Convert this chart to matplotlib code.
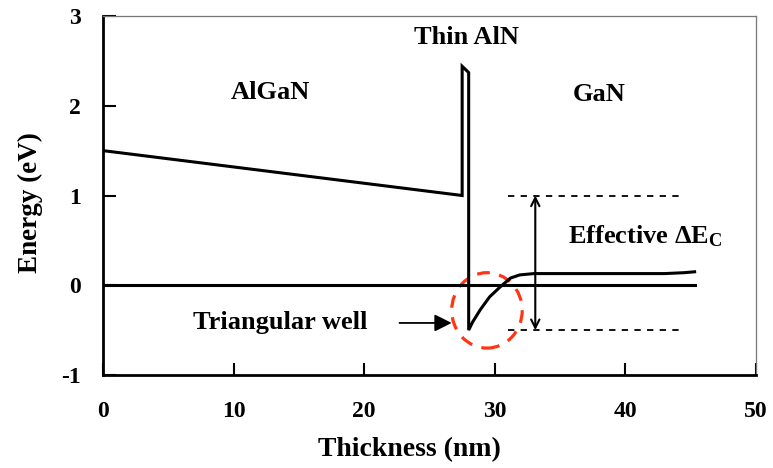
import matplotlib
matplotlib.use("Agg")
import matplotlib.pyplot as plt
from matplotlib.patches import Ellipse

plt.rcParams['font.family'] = ['Liberation Serif', 'DejaVu Serif']
plt.rcParams['font.weight'] = 'bold'
plt.rcParams['axes.unicode_minus'] = False
plt.rcParams['mathtext.fontset'] = 'custom'
plt.rcParams['mathtext.rm'] = 'Liberation Serif:bold'
plt.rcParams['mathtext.bf'] = 'Liberation Serif:bold'
plt.rcParams['mathtext.it'] = 'Liberation Serif:bold'

# Conduction band profile (thickness in nm, energy in eV)
algan_x = [0.0, 27.5]
algan_y = [1.5, 1.0]
barrier_x = [27.5, 27.5, 28.0, 28.0]
barrier_y = [1.0, 2.44, 2.37, -0.5]
gan_x = [28.0, 28.3, 28.9, 29.6, 30.4, 31.2, 31.9, 33.0, 43.0, 44.5, 45.3]
gan_y = [-0.5, -0.41, -0.27, -0.13, -0.02, 0.08, 0.115, 0.13, 0.13, 0.14, 0.15]

# Fermi level reference
fermi_x = [0.0, 45.3]
fermi_y = [0.0, 0.0]

# Effective conduction band offset markers
offset_top = 1.0
offset_bottom = -0.5
offset_span = [31.0, 44.5]
offset_arrow_x = 33.1

xticks = [0, 10, 20, 30, 40, 50]
yticks = [-1, 0, 1, 2, 3]

fig = plt.figure(figsize=(7.73, 4.68), dpi=100)
ax = fig.add_axes([103/773, 1 - 375/468, (756 - 103)/773, (375 - 16)/468])

lw = 2.2
ax.plot(algan_x + barrier_x[1:] + gan_x[1:], algan_y + barrier_y[1:] + gan_y[1:],
        color='black', lw=lw, solid_joinstyle='miter')
ax.plot(fermi_x, fermi_y, color='black', lw=lw)

for yv in (offset_top, offset_bottom):
    ax.plot(offset_span, [yv, yv], color='black', lw=1.3, dashes=(3.5, 3.5))

ax.annotate('', xy=(offset_arrow_x, offset_top), xytext=(offset_arrow_x, offset_bottom),
            arrowprops=dict(arrowstyle='<->', lw=1.5, color='black',
                            mutation_scale=15, shrinkA=0, shrinkB=0))

ax.add_patch(Ellipse((29.4, -0.28), 5.4, 0.84, fill=False, edgecolor='#ff3515',
                     lw=2.3, linestyle=(0, (4, 3))))

ax.annotate('', xy=(26.7, -0.42), xytext=(22.7, -0.42),
            arrowprops=dict(arrowstyle='-|>', lw=1.3, color='black',
                            mutation_scale=26, shrinkA=0, shrinkB=0))

tk = dict(fontsize=19, fontweight='bold')
ax.text(12.8, 2.15, 'AlGaN', ha='center', va='center', **tk)
ax.text(27.8, 2.76, 'Thin AlN', ha='center', va='center', **tk)
ax.text(38.0, 2.12, 'GaN', ha='center', va='center', **tk)
ax.text(13.6, -0.41, 'Triangular well', ha='center', va='center', **tk)
ax.text(35.6, 0.55, r'Effective $\Delta$E$_\mathrm{C}$', ha='left', va='center', **tk)

ax.set_xlim(0, 50)
ax.set_ylim(-1, 3)
ax.set_xticks(xticks)
ax.set_yticks(yticks)
ax.tick_params(direction='in', length=9, width=1.5, labelsize=17)
ax.tick_params(axis='x', pad=19)
ax.tick_params(axis='y', pad=16)
for lab in ax.get_xticklabels() + ax.get_yticklabels():
    lab.set_fontweight('bold')

ax.spines['left'].set_linewidth(2.0)
ax.spines['bottom'].set_linewidth(2.0)
for side in ('top', 'right'):
    ax.spines[side].set_linewidth(0.9)
    ax.spines[side].set_color('#777777')

ax.set_xlabel('Thickness (nm)', fontsize=20, fontweight='bold', va='center')
ax.set_ylabel('Energy (eV)', fontsize=19.5, fontweight='bold', va='center')
ax.xaxis.set_label_coords(0.469, (375 - 450) / 359)
ax.yaxis.set_label_coords((30 - 103) / 653, 0.48)

fig.savefig('out.png', dpi=100)
